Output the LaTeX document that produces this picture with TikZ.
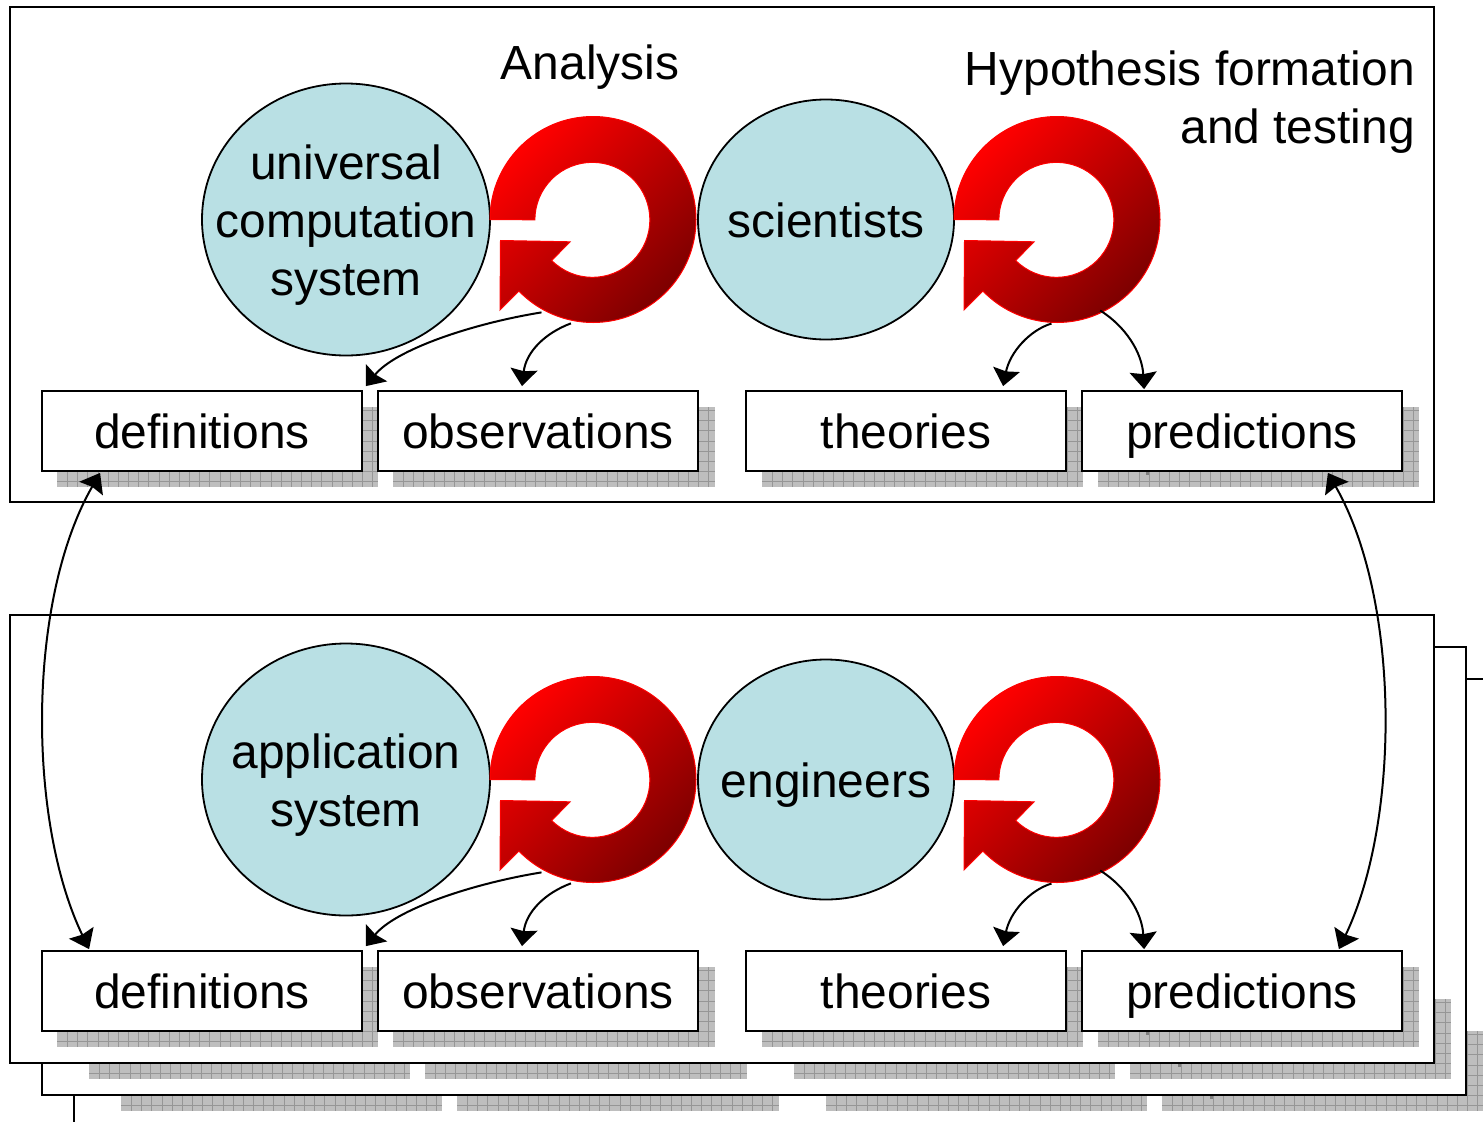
\documentclass[tikz,border=0pt]{standalone}
\usepackage{fontspec}
\setmainfont{Liberation Sans}
\usetikzlibrary{arrows.meta,shapes.geometric}
\definecolor{ballblue}{RGB}{185,224,228}
\definecolor{shadowfill}{RGB}{190,190,190}
\definecolor{shadowgrid}{RGB}{150,150,150}
\definecolor{deepred}{RGB}{125,0,0}
\newcommand{\bigtext}{\fontsize{47.9}{58}\selectfont}
\newcommand{\ballline}[2]{\makebox[0pt]{\raisebox{#1}[0pt][0pt]{#2}}}
\tikzset{
  frame/.style={draw=black,fill=white,line width=1.8pt},
  termbox/.style={draw=black,fill=white,line width=1.8pt,minimum width=320pt,minimum height=80pt,inner sep=0pt,font=\bigtext,text height=34.6pt,text depth=0pt},
  ball/.style={draw=black,fill=ballblue,line width=1.8pt,ellipse,inner sep=0pt,font=\bigtext},
  label/.style={inner sep=0pt,font=\bigtext},
  cycleanchor/.style={circle,minimum size=212pt,inner sep=0pt},
  cyclearrow/.style={draw=red,line width=1pt,shading=axis,top color=red,bottom color=deepred,shading angle=45},
  link/.style={draw=black,line width=2pt,-{Stealth[length=17pt,width=27pt,inset=2pt]}},
  twoway/.style={draw=black,line width=2pt,{Stealth[length=18pt,width=27pt,inset=2pt]}-{Stealth[length=18pt,width=27pt,inset=2pt]}}
}
% one grey hatched drop shadow: left, top, right, bottom
\newcommand{\dropshadow}[4]{%
  \begin{scope}
    \clip (#1,#2) rectangle (#3,#4);
    \fill[shadowfill] (#1,#2) rectangle (#3,#4);
    \foreach \k in {0,...,32}{
      \draw[shadowgrid,line width=.8pt] ({#1+10.5+10.17*\k},#2) -- ({#1+10.5+10.17*\k},#4);
    }
    \foreach \k in {0,...,8}{
      \draw[shadowgrid,line width=.8pt] (#1,{#4-5.3-10.17*\k}) -- (#3,{#4-5.3-10.17*\k});
    }
  \end{scope}}
% the four shadows of a row, shifted by #1 and with top #2
\newcommand{\shadowrow}[2]{%
  \dropshadow{57+#1}{#2}{378+#1}{#2+80}
  \dropshadow{393+#1}{#2}{715+#1}{#2+80}
  \dropshadow{762+#1}{#2}{1083+#1}{#2+80}
  \dropshadow{1098+#1}{#2}{1419+#1}{#2+80}
  \fill[shadowgrid!85!black] ({1145.5+#1},{#2+64}) rectangle ({1149+#1},{#2+68});}
% the circular arrow: centre x, centre y, node name
\newcommand{\cyclesign}[3]{%
  \node[cycleanchor] (#3) at (#1,#2) {};
  \begin{scope}[shift={(#1,#2)},x=1pt,y=1pt]
    \shadedraw[cyclearrow] (-103,0) arc[start angle=180,end angle=-136,radius=103]
      -- (-93,-90.3) -- (-92.5,-21) -- (-23,-22.3) -- (-41.3,-41)
      arc[start angle=-135,end angle=180,radius=57.5] -- cycle;
  \end{scope}}
\begin{document}
\begin{tikzpicture}[x=1pt,y=-1pt]
\useasboundingbox (0,0) rectangle (1483,1122);
\fill[white] (0,0) rectangle (1483,1122);

% stacked back sheets
\draw[black,line width=1.8pt] (1483,679) -- (74,679) -- (74,1122);
\shadowrow{64}{1031}
\path[frame] (42,647) rectangle (1466,1095);
\shadowrow{32}{999}

% upper sheet
\path[frame] (10,7) rectangle (1434,502);
\shadowrow{0}{407}
\node[termbox] (def1) at (202,431) {definitions};
\node[termbox] (obs1) at (538,431) {observations};
\node[termbox] (the1) at (906,431) {theories};
\node[termbox] (pre1) at (1242,431) {predictions};
\node[ball,minimum width=288pt,minimum height=272pt] (usys) at (346,219.5) {\ballline{40pt}{universal}\ballline{-18pt}{computation}\ballline{-76pt}{system}};
\node[ball,minimum width=256pt,minimum height=240pt] (sci) at (826,219.5) {\ballline{-18pt}{scientists}};
\cyclesign{593}{219.5}{cycA}
\cyclesign{1057}{219.5}{cycB}
\node[label,anchor=base] (ana) at (590,79) {Analysis};
\node[label,anchor=east,align=right] (hyp) at (1415,102) {Hypothesis formation\\and testing};

% lower sheet
\path[frame] (10,615) rectangle (1434,1063);
\shadowrow{0}{967}
\node[termbox] (def2) at (202,991) {definitions};
\node[termbox] (obs2) at (538,991) {observations};
\node[termbox] (the2) at (906,991) {theories};
\node[termbox] (pre2) at (1242,991) {predictions};
\node[ball,minimum width=288pt,minimum height=272pt] (asys) at (346,779.5) {\ballline{11pt}{application}\ballline{-47pt}{system}};
\node[ball,minimum width=256pt,minimum height=240pt] (eng) at (826,779.5) {\ballline{-18pt}{engineers}};
\cyclesign{593}{779.5}{cycC}
\cyclesign{1057}{779.5}{cycD}

% connectors, upper sheet
\path[link] (cycA.241) .. controls (470,324) and (395,350) .. ([shift={(3,-4)}]def1.north east);
\path[link] (cycA.258) .. controls (545,333) and (526,352) .. ([shift={(-16,-4)}]obs1.north);
\path[link] ([shift={(0,-2)}]cycB.267) .. controls (1030,330) and (1010,352) .. ([shift={(258,-4)}]the1.north west);
\path[link] ([shift={(0,-6)}]cycB.294) .. controls (1125,326) and (1142,352) .. ([shift={(63,-1)}]pre1.north west);

% connectors, lower sheet
\path[link] (cycC.241) .. controls (470,884) and (395,910) .. ([shift={(3,-4)}]def2.north east);
\path[link] (cycC.258) .. controls (545,893) and (526,912) .. ([shift={(-16,-4)}]obs2.north);
\path[link] ([shift={(0,-2)}]cycD.267) .. controls (1030,890) and (1010,912) .. ([shift={(258,-4)}]the2.north west);
\path[link] ([shift={(0,-6)}]cycD.294) .. controls (1125,886) and (1142,912) .. ([shift={(63,-1)}]pre2.north west);

% connectors between the sheets
\path[twoway] ([shift={(59,1)}]def1.south west) .. controls (27,600) and (27,820) .. ([shift={(48,-1)}]def2.north west);
\path[twoway] ([shift={(-75,1)}]pre1.south east) .. controls (1400.5,600) and (1400.5,820) .. ([shift={(-64,-1)}]pre2.north east);
\end{tikzpicture}
\end{document}
